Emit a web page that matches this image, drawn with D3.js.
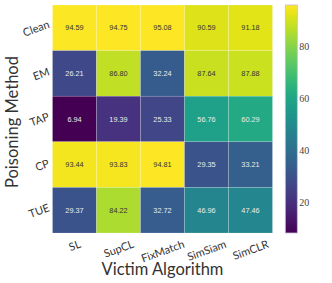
<!DOCTYPE html>
<html>
<head>
<meta charset="utf-8">
<script src="https://cdn.jsdelivr.net/npm/d3@7"></script>
<style>
  body { margin: 0; background: #fff; }
  svg { display: block; }
  .lbl { font-family: Lato, "Open Sans", sans-serif; fill: #333; }
</style>
</head>
<body>
<div id="chart"></div>
<script>
var methods = ['Clean', 'EM', 'TAP', 'CP', 'TUE']
var algorithms = ['SL', 'SupCL', 'FixMatch', 'SimSiam', 'SimCLR']
var accuracy = [
  [94.59, 94.75, 95.08, 90.59, 91.18],
  [26.21, 86.80, 32.24, 87.64, 87.88],
  [6.94, 19.39, 25.33, 56.76, 60.29],
  [93.44, 93.83, 94.81, 29.35, 33.21],
  [29.37, 84.22, 32.72, 46.96, 47.46]
]
var cbarTicks = [20, 40, 60, 80]

var width = 332,
    height = 283,
    hm = {left: 52.5, top: 5, width: 220, height: 228},
    cb = {left: 285.3, width: 12}

var svg = d3.select('#chart')
  .append('svg')
    .attr('width', width)
    .attr('height', height)

var flat = accuracy.flat()
var vmin = d3.min(flat), vmax = d3.max(flat)
var color = d3.scaleSequential(d3.interpolateViridis).domain([vmin, vmax])

var x = d3.scaleBand().domain(algorithms).range([hm.left, hm.left + hm.width])
var y = d3.scaleBand().domain(methods).range([hm.top, hm.top + hm.height])

var cells = []
accuracy.forEach(function(row, i){
  row.forEach(function(v, j){ cells.push({m: methods[i], a: algorithms[j], v: v}) })
})

svg.append('g').selectAll('rect')
  .data(cells)
  .enter().append('rect')
    .attr('x', function(d){ return x(d.a) })
    .attr('y', function(d){ return y(d.m) })
    .attr('width', x.bandwidth())
    .attr('height', y.bandwidth())
    .attr('fill', function(d){ return color(d.v) })
    .attr('stroke', 'rgba(255,255,255,0.35)')
    .attr('stroke-width', 0.5)

function luminance(c){
  var rgb = d3.rgb(c)
  var f = function(u){ u /= 255; return u <= 0.03928 ? u/12.92 : Math.pow((u + 0.055)/1.055, 2.4) }
  return 0.2126*f(rgb.r) + 0.7152*f(rgb.g) + 0.0722*f(rgb.b)
}

svg.append('g').selectAll('text')
  .data(cells)
  .enter().append('text')
    .attr('x', function(d){ return x(d.a) + x.bandwidth()/2 })
    .attr('y', function(d){ return y(d.m) + y.bandwidth()/2 })
    .attr('text-anchor', 'middle')
    .attr('dominant-baseline', 'central')
    .style('font-family', '"Liberation Sans", Arial, sans-serif')
    .style('font-size', '7.3px')
    .attr('fill', function(d){ return luminance(color(d.v)) > 0.408 ? '#333' : '#ececec' })
    .text(function(d){ return d.v.toFixed(2) })

// x tick labels, rotated 20deg, bbox centred under the column
var rot = 20 * Math.PI / 180
svg.append('g').selectAll('text')
  .data(algorithms)
  .enter().append('text')
    .attr('class', 'lbl')
    .style('font-size', '11px')
    .attr('text-anchor', 'middle')
    .attr('dominant-baseline', 'central')
    .text(function(d){ return d })
    .each(function(d){
      var b = this.getBBox()
      var bh = b.width*Math.sin(rot) + b.height*0.8*Math.cos(rot)
      var cx = x(d) + x.bandwidth()/2, cy = 238 + bh/2
      d3.select(this).attr('transform', 'translate(' + cx + ',' + cy + ') rotate(-20)')
    })

// y tick labels, rotated 20deg, right aligned
svg.append('g').selectAll('text')
  .data(methods)
  .enter().append('text')
    .attr('class', 'lbl')
    .style('font-size', '11px')
    .attr('text-anchor', 'middle')
    .attr('dominant-baseline', 'central')
    .text(function(d){ return d })
    .each(function(d){
      var b = this.getBBox()
      var bw = b.width*Math.cos(rot) + b.height*0.8*Math.sin(rot)
      var cx = 50.5 - bw/2, cy = y(d) + y.bandwidth()/2
      d3.select(this).attr('transform', 'translate(' + cx + ',' + cy + ') rotate(-20)')
    })

svg.append('text')
    .attr('class', 'lbl')
    .style('font-size', '16.5px')
    .attr('text-anchor', 'middle')
    .attr('x', hm.left + hm.width/2)
    .attr('y', 275)
    .text('Victim Algorithm')

svg.append('text')
    .attr('class', 'lbl')
    .style('font-size', '16.5px')
    .attr('text-anchor', 'middle')
    .attr('transform', 'translate(18,' + (hm.top + hm.height/2 + 3) + ') rotate(-90)')
    .text('Poisoning Method')

// colorbar
var defs = svg.append('defs')
var grad = defs.append('linearGradient')
    .attr('id', 'cbar')
    .attr('x1', 0).attr('y1', 1).attr('x2', 0).attr('y2', 0)
d3.range(0, 1.0001, 0.05).forEach(function(t){
  grad.append('stop')
      .attr('offset', t)
      .attr('stop-color', d3.interpolateViridis(t))
})

var cy = d3.scaleLinear().domain([vmin, vmax]).range([hm.top + hm.height, hm.top])

svg.append('rect')
    .attr('x', cb.left)
    .attr('y', hm.top)
    .attr('width', cb.width)
    .attr('height', hm.height)
    .attr('fill', 'url(#cbar)')
    .attr('stroke', '#c9bcd2')
    .attr('stroke-width', 0.8)

svg.append('g').selectAll('text')
  .data(cbarTicks)
  .enter().append('text')
    .attr('x', cb.left + cb.width + 2)
    .attr('y', function(d){ return cy(d) + 2.8 })
    .attr('dominant-baseline', 'central')
    .style('font-family', '"Liberation Serif", "Times New Roman", serif')
    .style('font-size', '10px')
    .attr('fill', '#444')
    .text(function(d){ return d })
</script>
</body>
</html>
